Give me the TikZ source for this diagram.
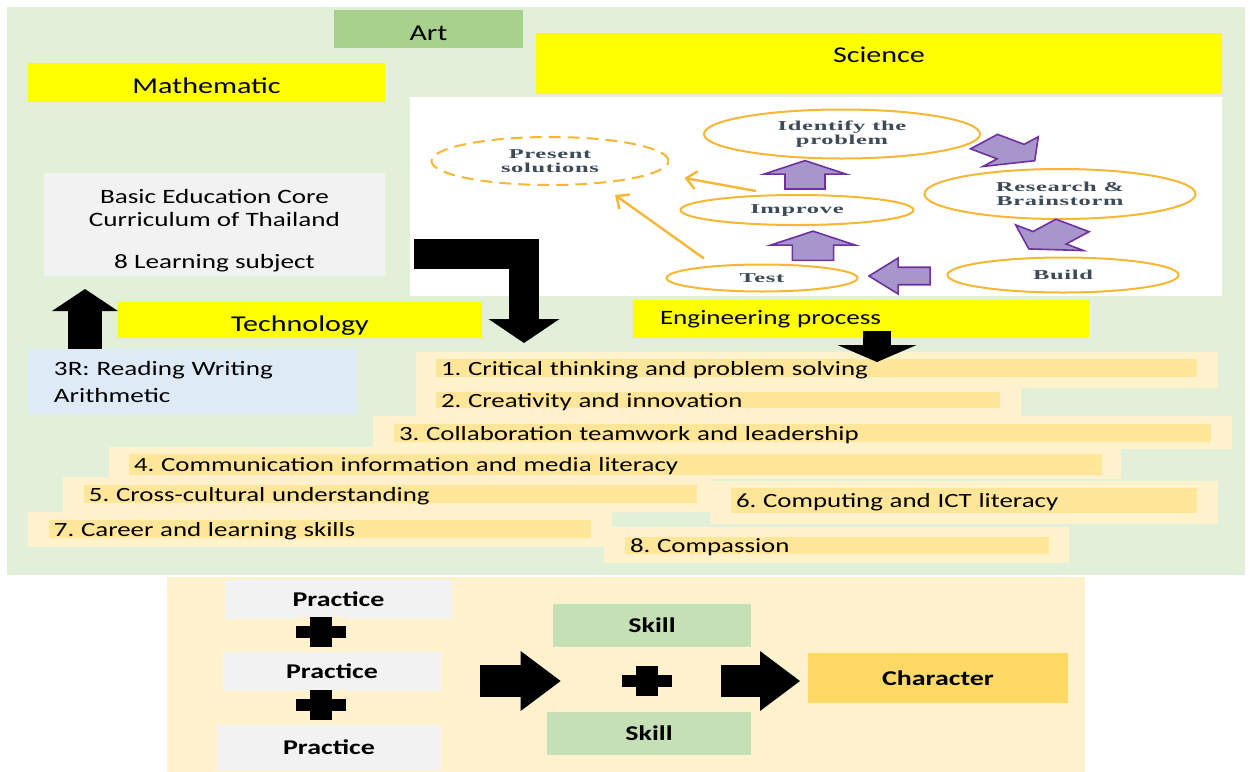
\documentclass[tikz,border=0pt]{standalone}
\usepackage{fontspec}
\setmainfont{Carlito}[FakeStretch=1.33]
\newfontfamily\scifont{Liberation Serif}[FakeStretch=1.8,LetterSpace=5]
\usetikzlibrary{positioning,calc,arrows.meta,shapes.geometric}
\frenchspacing

\definecolor{bggreen}{HTML}{E2F0D9}
\definecolor{artgreen}{HTML}{A9D18E}
\definecolor{subjyellow}{HTML}{FFFF00}
\definecolor{pracgray}{HTML}{F2F2F2}
\definecolor{rblue}{HTML}{DEEBF7}
\definecolor{rowpale}{HTML}{FFF2CC}
\definecolor{barorange}{HTML}{FFE699}
\definecolor{skillgreen}{HTML}{C5E0B4}
\definecolor{chargold}{HTML}{FFD966}
\definecolor{ellorange}{RGB}{247,183,50}
\definecolor{arrpurple}{HTML}{7030A0}
\definecolor{arrfill}{HTML}{A696CB}
\definecolor{scitext}{HTML}{3D4A57}

\newcommand{\hdrfont}{\fontsize{11.3}{13.5}\selectfont}
\newcommand{\txtfont}{\fontsize{10.2}{11.5}\selectfont}
\newcommand{\lstfont}{\fontsize{10.1}{12}\selectfont}
\newcommand{\botfont}{\fontsize{10.5}{12}\selectfont\bfseries}

% purple block arrow: x, y, rotation, scale
\newcommand{\purplearrow}[4]{%
  \begin{scope}[shift={(#1,#2)}, yscale=0.45, rotate=#3, scale=#4]
    \draw[parrow] (-31,-20) -- (2,-20) -- (2,-41) -- (32,0) -- (2,41) -- (2,20) -- (-31,20) -- cycle;
  \end{scope}}

% skill bar with its text: name, x1, y1, x2, y2, text
\newcommand{\skillbar}[6]{%
  \pgfmathsetmacro{\barw}{(#4-#2)/2-5}%
  \node[barnode, span={#2}{#3}{#4}{#5}, text width=\barw pt] (#1) {#6};}

\begin{document}
\begin{tikzpicture}[x=0.5pt, y=-0.5pt,
  span/.style n args={4}{at={({(#1+#3)/2},{(#2+#4)/2})},
    minimum width={(#3-#1)*0.5pt}, minimum height={(#4-#2)*0.5pt}},
  box/.style={inner sep=0pt, outer sep=0pt},
  lowtext/.style={text height=11pt, text depth=0pt},
  subject/.style={box, fill=subjyellow, font=\hdrfont},
  rowbox/.style={box, fill=rowpale},
  barnode/.style={box, fill=barorange, font=\lstfont, text height=7.5pt, text depth=0.5pt, align=left},
  prac/.style={box, fill=pracgray, font=\botfont},
  stepell/.style={ellipse, draw=ellorange, line width=1pt, inner sep=0pt, text=scitext,
    font=\scifont\bfseries\fontsize{6.8}{6.9}\selectfont, align=center},
  parrow/.style={draw=arrpurple, fill=arrfill, line width=0.8pt, line join=miter},
  orarrow/.style={draw=ellorange, line width=1.2pt, -{Straight Barb[length=5pt,width=9pt]}},
  blkarrow/.style={draw=black, line join=miter},
  bigarrow/.style={blkarrow, line width=16pt, -{Triangle[width=30pt,length=20pt,line width=0pt]}},
  plussign/.style={minimum width=25pt, minimum height=15pt, inner sep=0pt, fill=rowpale,
    path picture={
      \fill[black] ($(path picture bounding box.west)+(0pt,-3pt)$) rectangle ($(path picture bounding box.east)+(0pt,3pt)$);
      \fill[black] ($(path picture bounding box.north)+(-5.5pt,0pt)$) rectangle ($(path picture bounding box.south)+(5.5pt,0pt)$);}}
]
  \useasboundingbox (0,0) rectangle (1250,772);
  \fill[white] (0,0) rectangle (1250,772);

  % Green background panel
  \fill[bggreen] (7,7) rectangle (1245,575);

  % Subject boxes
  \node[box, fill=artgreen, font=\hdrfont, lowtext, span={334}{10}{523}{48}] (art) {Art};
  \node[subject, lowtext, span={28}{63}{385}{102}] (math) {Mathematic};
  \node[subject, text depth=9pt, span={536}{33}{1222}{94}] (sci) {Science};
  \node[subject, lowtext, span={118}{302}{482}{338}] (tech) {Technology};
  \node[subject, font=\txtfont, text width=201pt, align=left, span={633}{300}{1089}{338}] (eng) {Engineering process};

  % Curriculum and 3R boxes
  \node[box, fill=pracgray, font=\txtfont, align=center, span={44}{173}{385}{276}] (basic)
    {\rule{0pt}{13pt}Basic Education Core\\Curriculum of Thailand\\[9.5pt]8 Learning subject};
  \node[box, fill=rblue, font=\fontsize{10.2}{13.5}\selectfont, text width=138.5pt, align=left,
    span={28}{349}{357}{414}] (r3) {3R: Reading Writing\\Arithmetic};

  % Engineering design process picture
  \node[box, fill=white, span={410}{97}{1222}{296}] (sciimg) {};
  \node[stepell, dash pattern=on 6pt off 3.5pt, minimum width=118.5pt, minimum height=24pt] (present) at (550,161) {Present\\solutions};
  \node[stepell, minimum width=138pt, minimum height=24.5pt] (identify) at (842,134) {Identify the\\problem};
  \node[stepell, minimum width=135.5pt, minimum height=25pt] (research) at (1060,194) {Research \&\\Brainstorm};
  \node[stepell, minimum width=116.5pt, minimum height=15pt] (improve) at (797,210) {Improve};
  \node[stepell, minimum width=115.5pt, minimum height=17.5pt] (build) at (1063,275) {Build};
  \node[stepell, minimum width=95.5pt, minimum height=13.5pt] (test) at (762,278) {Test};

  \purplearrow{1009}{151}{-40}{1.05}
  \purplearrow{1051}{237}{-130}{1.08}
  \purplearrow{900}{276}{180}{0.97}
  \purplearrow{813}{246}{90}{1.03}
  \purplearrow{805}{175}{90}{1}

  \draw[orarrow] ($(improve.north)+(-41,-3)$) -- ($(present.east)+(15,17)$);
  \draw[orarrow] ($(test.north)+(-58,-5)$) -- ($(present.south)+(65,9)$);

  % 21st century skill rows
  \node[rowbox, span={416}{352}{1218}{388}] (so1) {};
  \node[rowbox, span={416}{387}{1021}{417}] (so2) {};
  \node[rowbox, span={373}{416}{1232}{449}] (so3) {};
  \node[rowbox, span={109}{447}{1121}{479}] (so4) {};
  \node[rowbox, span={63}{477}{712}{512}] (so5) {};
  \node[rowbox, span={710}{481}{1218}{524}] (so6) {};
  \node[rowbox, span={28}{512}{612}{547}] (so7) {};
  \node[rowbox, span={604}{527}{1069}{563}] (so8) {};

  \skillbar{sb1}{436}{359}{1197}{377}{1. Critical thinking and problem solving}
  \skillbar{sb2}{436}{392}{1000}{408}{2. Creativity and innovation}
  \skillbar{sb3}{394}{424}{1211}{442}{3. Collaboration teamwork and leadership}
  \skillbar{sb4}{129}{454}{1102}{475}{4. Communication information and media literacy}
  \skillbar{sb5}{84}{485}{697}{503}{5. Cross-cultural understanding}
  \skillbar{sb6}{731}{488}{1197}{513}{6. Computing and ICT literacy}
  \skillbar{sb7}{49}{520}{591}{538}{7. Career and learning skills}
  \skillbar{sb8}{625}{537}{1049}{554}{8. Compassion}

  % Black arrows
  \coordinate (lstart) at (414,254);
  \draw[blkarrow, line width=17pt, -{Triangle[width=33pt,length=11pt,line width=0pt]}, shorten >=6.5pt]
    ([xshift=28.5pt]r3.north west) -- ([xshift=20.5pt]basic.south west);
  \draw[blkarrow, line width=15pt, -{Triangle[width=35.5pt,length=12pt,line width=0pt]}, shorten >=4.5pt]
    (lstart) -| ([xshift=54pt]so1.north west);
  \draw[blkarrow, line width=14pt, -{Triangle[width=39.5pt,length=8.5pt,line width=0pt]}, shorten <=-3.5pt, shorten >=-5pt]
    ([xshift=8pt]eng.south) -- ([xshift=30pt]so1.north);

  % Practice + skill = character
  \node[box, fill=rowpale, span={167}{577}{1085}{772}] (bottom) {};
  \node[prac, span={225}{580}{452}{619}] (p1) {Practice};
  \node[prac, span={223}{652}{441}{691}] (p2) {Practice};
  \node[prac, span={217}{725}{441}{770}] (p3) {Practice};
  \node[box, fill=skillgreen, font=\botfont, span={553}{604}{751}{647}] (sk1) {Skill};
  \node[box, fill=skillgreen, font=\botfont, span={547}{712}{751}{755}] (sk2) {Skill};
  \node[box, fill=chargold, font=\botfont, span={808}{653}{1068}{703}] (ch) {Character};

  \node[plussign] (pl1) at (321,632) {};
  \node[plussign] (pl2) at (321,705) {};
  \node[plussign] (pl3) at (647,681) {};

  \draw[bigarrow, shorten <=19.5pt, shorten >=30.5pt] (p2.east |- pl3.west) -- (pl3.west);
  \draw[bigarrow, shorten <=24.5pt, shorten >=4pt] (pl3.east) -- (pl3.east -| ch.west);
\end{tikzpicture}
\end{document}
